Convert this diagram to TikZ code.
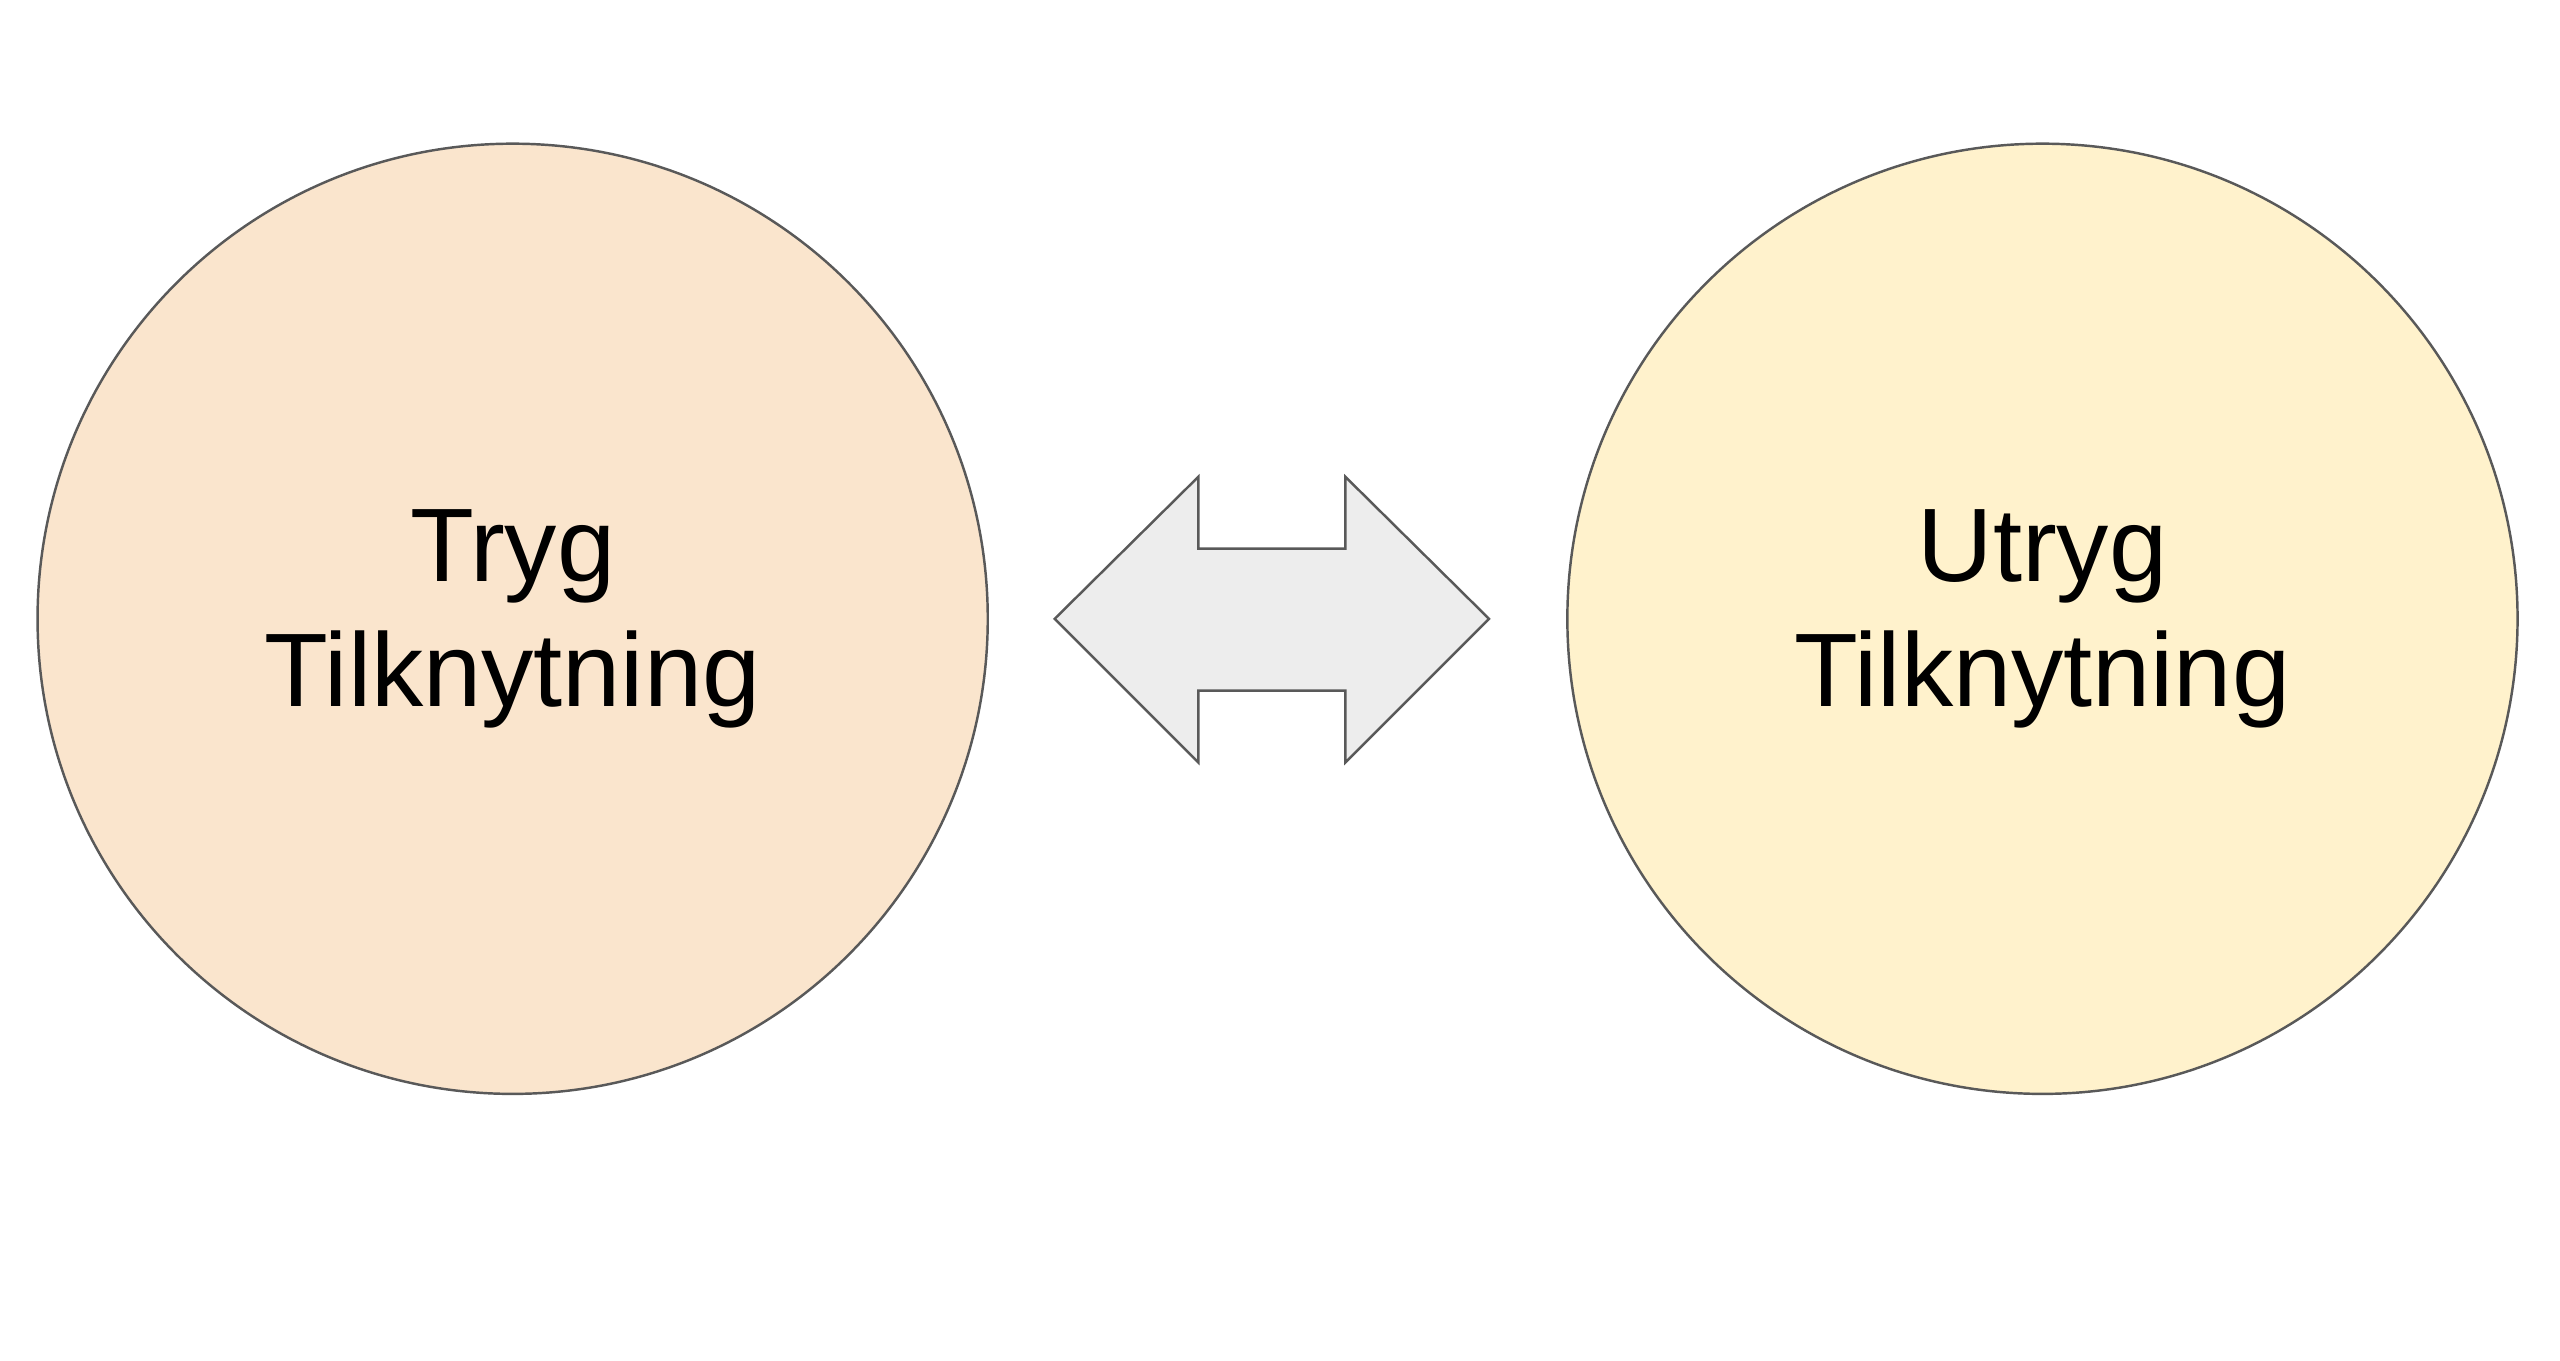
\documentclass[tikz,border=0pt]{standalone}
\usepackage{fontspec}
\setmainfont{Liberation Sans}
\begin{document}
\begin{tikzpicture}[x=1pt,y=-1pt,
  circ/.style={circle,draw=black!65,line width=1.5pt,minimum size=582pt,inner sep=0pt,
    align=center,font=\fontsize{64}{77}\selectfont},
  arr/.style={draw=black!65,line width=1.5pt,fill=black!7,line join=miter}]
\useasboundingbox (0,0) rectangle (1568,833);
\node[circ,fill={rgb,255:red,250;green,229;blue,205}] (a) at (314,379) {Tryg\\Tilknytning};
\node[circ,fill={rgb,255:red,255;green,242;blue,204}] (b) at (1251,379) {Utryg\\Tilknytning};
\draw[arr] (646,379) -- (734,292) -- (734,336) -- (824,336) -- (824,292) -- (912,379)
  -- (824,467) -- (824,423) -- (734,423) -- (734,467) -- cycle;
\end{tikzpicture}
\end{document}
